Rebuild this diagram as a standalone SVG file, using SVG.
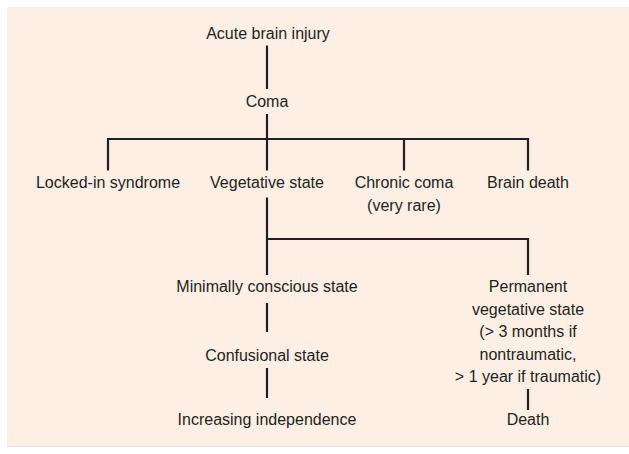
<svg xmlns="http://www.w3.org/2000/svg" width="629" height="454" viewBox="0 0 629 454">
  <style>
    .bg { fill: #fdefe3; }
    .lbl { font-family: "Liberation Sans", Arial, sans-serif; font-size: 16px; fill: #231f20; text-anchor: middle; }
    .ln { stroke: #231f20; stroke-width: 2.2; fill: none; stroke-linecap: butt; stroke-linejoin: miter; }
  </style>
  <rect x="0" y="0" width="629" height="454" fill="#ffffff"/>
  <rect class="bg" x="7" y="7" width="622" height="439"/>
  <line x1="7" y1="446.5" x2="629" y2="446.5" stroke="#e6e2d8" stroke-width="1"/>

  <g id="connectors">
    <line class="ln" x1="267" y1="45.5" x2="267" y2="89"/>
    <line class="ln" x1="267" y1="114" x2="267" y2="139"/>
    <path class="ln" d="M108 170.5 V139 H528 V170.5"/>
    <line class="ln" x1="267" y1="139" x2="267" y2="170.5"/>
    <line class="ln" x1="404" y1="139" x2="404" y2="170.5"/>
    <line class="ln" x1="267" y1="197.5" x2="267" y2="275"/>
    <path class="ln" d="M267 239 H528 V275"/>
    <line class="ln" x1="267" y1="303" x2="267" y2="332"/>
    <line class="ln" x1="267" y1="368" x2="267" y2="398"/>
    <line class="ln" x1="528" y1="389" x2="528" y2="410"/>
  </g>

  <g id="acute-brain-injury"><text class="lbl" x="268" y="39">Acute brain injury</text></g>
  <g id="coma"><text class="lbl" x="267" y="106.5">Coma</text></g>
  <g id="locked-in-syndrome"><text class="lbl" x="108" y="188">Locked-in syndrome</text></g>
  <g id="vegetative-state"><text class="lbl" x="267" y="188">Vegetative state</text></g>
  <g id="chronic-coma">
    <text class="lbl" x="404" y="188">Chronic coma</text>
    <text class="lbl" x="404" y="210.5">(very rare)</text>
  </g>
  <g id="brain-death"><text class="lbl" x="528" y="188">Brain death</text></g>
  <g id="minimally-conscious-state"><text class="lbl" x="267" y="292">Minimally conscious state</text></g>
  <g id="permanent-vegetative-state">
    <text class="lbl" x="528" y="292">Permanent</text>
    <text class="lbl" x="528" y="314.5">vegetative state</text>
    <text class="lbl" x="528" y="337">(&gt; 3 months if</text>
    <text class="lbl" x="528" y="359.5">nontraumatic,</text>
    <text class="lbl" x="528" y="382">&gt; 1 year if traumatic)</text>
  </g>
  <g id="confusional-state"><text class="lbl" x="267" y="360.5">Confusional state</text></g>
  <g id="increasing-independence"><text class="lbl" x="267" y="425">Increasing independence</text></g>
  <g id="death"><text class="lbl" x="528" y="425">Death</text></g>
</svg>
